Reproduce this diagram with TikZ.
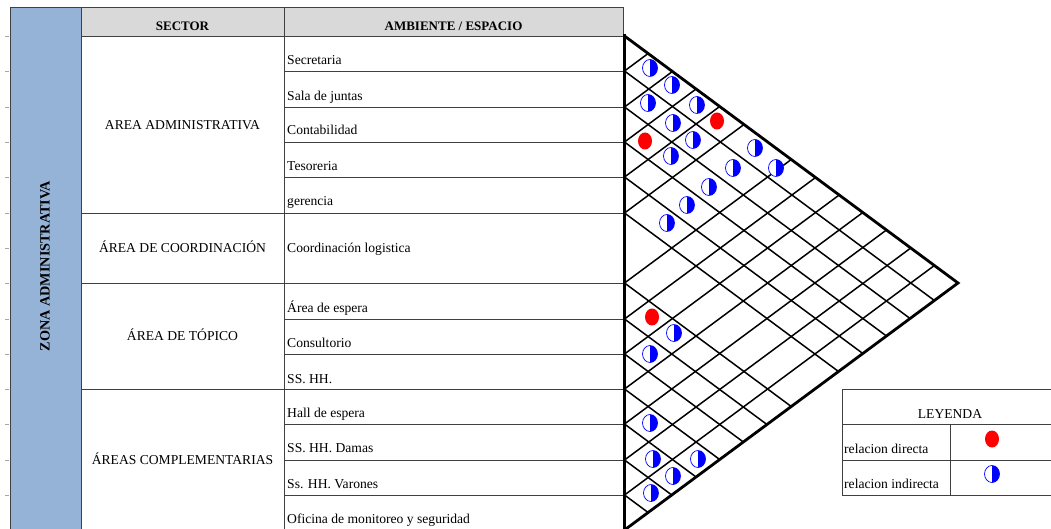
\documentclass[tikz,border=0pt]{standalone}
\usepackage{fontspec}
\setmainfont{Liberation Serif}
\usetikzlibrary{shapes.geometric}
\definecolor{zonefill}{HTML}{95B3D7}
\definecolor{hdrfill}{HTML}{D9D9D9}
\begin{document}
\begin{tikzpicture}[x=1pt,y=-1pt,
  tline/.style={draw=black!75, line width=0.9pt},
  tick/.style={draw=black!35, line width=0.6pt},
  mgrid/.style={draw=black, line width=1.5pt},
  medge/.style={draw=black, line width=2.8pt},
  txt/.style={font=\fontsize{13.6}{15}\selectfont, inner sep=0pt},
  hdr/.style={font=\fontsize{13}{15}\selectfont\bfseries, inner sep=0pt},
  ind/.style={ellipse, draw=blue, line width=0.7pt, fill=white, minimum width=15pt, minimum height=17pt, inner sep=0pt,
    path picture={\fill[blue] (path picture bounding box.north) rectangle (path picture bounding box.south east);}},
  dir/.style={ellipse, fill=red, minimum width=14pt, minimum height=17pt, inner sep=0pt}]
\useasboundingbox (0,0) rectangle (1051,529);

% fills
\fill[zonefill] (10,7) rectangle (81,540);
\fill[hdrfill] (81,7) rectangle (623,36);

% small row marks at far left
\foreach \b in {36,71,107,142,177,213,248,283,319,354,389,424,460,495}
  \draw[tick] (5,\b) -- (9,\b);

% table lines
\draw[tline] (10,7) -- (623,7);
\draw[tline] (81,36) -- (623,36);
\draw[tline] (10,7) -- (10,540);
\draw[tline] (81,7) -- (81,540);
\draw[tline] (284,7) -- (284,540);
\draw[tline] (623,7) -- (623,36);
\foreach \b in {213,283,389}
  \draw[tline] (81,\b) -- (284,\b);
\foreach \b in {71,107,142,177,213,283,319,354,389,424,460,495}
  \draw[tline] (284,\b) -- (623,\b);

% texts
\node[hdr, font=\fontsize{14.2}{16}\selectfont\bfseries, rotate=90] (zona) at (45,266) {ZONA ADMINISTRATIVA};
\node[hdr] (hsector) at (182.5,26) {SECTOR};
\node[hdr] (hamb) at (453.5,26) {AMBIENTE / ESPACIO};

\node[txt, anchor=base] (s1) at (182.5,129.5) {AREA ADMINISTRATIVA};
\node[txt, anchor=base] (s2) at (182.5,252.5) {ÁREA DE COORDINACIÓN};
\node[txt, anchor=base] (s3) at (182.5,340.5) {ÁREA DE TÓPICO};
\node[txt, anchor=base] (s4) at (182.5,464.5) {ÁREAS COMPLEMENTARIAS};

\node[txt, anchor=base west] (a1) at (287,65) {Secretaria};
\node[txt, anchor=base west] (a2) at (287,101) {Sala de juntas};
\node[txt, anchor=base west] (a3) at (287,135) {Contabilidad};
\node[txt, anchor=base west] (a4) at (287,171) {Tesoreria};
\node[txt, anchor=base west] (a5) at (287,206) {gerencia};
\node[txt, anchor=base west] (a6) at (287,252) {Coordinación logistica};
\node[txt, anchor=base west] (a7) at (287,312) {Área de espera};
\node[txt, anchor=base west] (a8) at (287,347) {Consultorio};
\node[txt, anchor=base west] (a9) at (287,383) {SS. HH.};
\node[txt, anchor=base west] (a10) at (287,417) {Hall de espera};
\node[txt, anchor=base west] (a11) at (287,452) {SS. HH. Damas};
\node[txt, anchor=base west] (a12) at (287,488) {Ss. HH. Varones};
\node[txt, anchor=base west] (a13) at (287,523) {Oficina de monitoreo y seguridad};

% relation matrix
\foreach \b in {71,107,142,177,213,283,319,354,389,424,460,495} {
  \draw[mgrid] (624.5,\b) -- ({624.5+(530-\b)*0.6751},{(\b+530)/2});
  \draw[mgrid] (624.5,\b) -- ({624.5+(\b-36)*0.6751},{(\b+36)/2});
}
\draw[medge, line join=miter] (624.5,36) -- (958,283) -- (624.5,530);
\draw[draw=black, line width=3.5pt] (624.5,34.5) -- (624.5,540);

% relation marks
\foreach \p [count=\i] in {(650,68),(672,85),(648,103),(697,105),(673,123),(693,140),(671,156),(755,148),(733,168),(776,168),(709,187),(687,205),(667,223),(674,333),(650,354),(650,423),(653,459),(698,459),(673,476),(651,493)}
  \node[ind] (i\i) at \p {};
\node[dir] (r1) at (717,121) {};
\node[dir] (r2) at (645,141) {};
\node[dir] (r3) at (652,317) {};

% legend
\draw[tline] (842,389) -- (1060,389);
\draw[tline] (842,424) -- (1060,424);
\draw[tline] (842,460) -- (1060,460);
\draw[tline] (842,495) -- (1060,495);
\draw[tline] (842,389) -- (842,495);
\draw[tline] (950,424) -- (950,495);
\node[txt, anchor=base] (ley) at (950,418) {LEYENDA};
\node[txt, anchor=base west] (ld) at (844,453) {relacion directa};
\node[txt, anchor=base west] (li) at (844,488) {relacion indirecta};
\node[dir] (lr) at (992,439) {};
\node[ind] (lb) at (992,474) {};
\end{tikzpicture}
\end{document}
